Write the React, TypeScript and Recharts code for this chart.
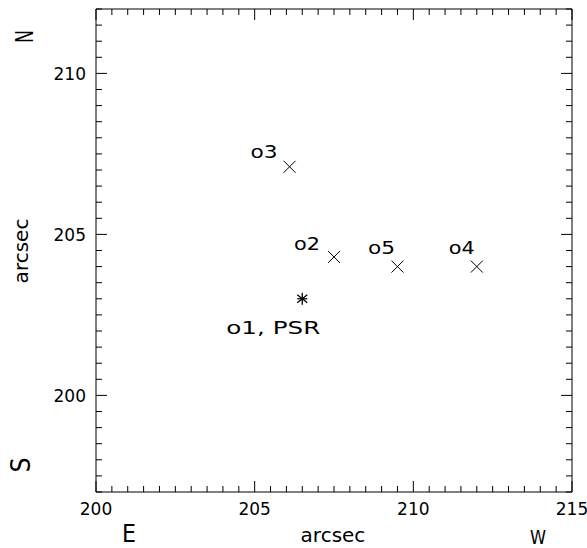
import React from "react";
import { ScatterChart, Scatter, XAxis, YAxis } from "recharts";

// sources in the field, arcsec
const names = ["o1, PSR", "o2", "o3", "o4", "o5"];
const xValues = [206.5, 207.5, 206.1, 212.0, 209.5];
const yValues = [203.0, 204.3, 207.1, 204.0, 204.0];
const markerKinds = ["asterisk", "cross", "cross", "cross", "cross"];

const xDomain = [200, 215];
const yDomain = [197, 212];
const xMajorTicks = [200, 205, 210, 215];
const yMajorTicks = [200, 205, 210];
const minorStep = 0.5;

// label placement relative to the marker (pixels)
const labelStyles: Record<string, { dx: number; dy: number; len: number }> = {
  "o1, PSR": { dx: -29, dy: 35, len: 94 },
  o2: { dx: -27, dy: -7, len: 26 },
  o3: { dx: -25.5, dy: -8.5, len: 27 },
  o4: { dx: -15, dy: -12.7, len: 26 },
  o5: { dx: -16, dy: -12.7, len: 27 },
};

const FONT = "'DejaVu Sans', sans-serif";
const INK = "#000";

const makeTicks = (lo: number, hi: number) => {
  const out: number[] = [];
  for (let v = lo; v <= hi + 1e-9; v += minorStep) out.push(Math.round(v * 10) / 10);
  return out;
};

const xTicks = makeTicks(xDomain[0], xDomain[1]);
const yTicks = makeTicks(yDomain[0], yDomain[1]);

const data = names.map((n, i) => ({
  name: n,
  x: xValues[i],
  y: yValues[i],
  kind: markerKinds[i],
}));

const isMajor = (v: number, majors: number[]) => majors.indexOf(v) !== -1;

// ticks point inward, labels only on bottom/left majors
const tickFactory =
  (side: "bottom" | "top" | "left" | "right") =>
  (props: any) => {
    const { x, y, payload } = props;
    const v = payload.value as number;
    const majors = side === "bottom" || side === "top" ? xMajorTicks : yMajorTicks;
    const major = isMajor(v, majors);
    const len = major ? 11 : 6;
    let line;
    if (side === "bottom") line = <line x1={x} y1={y} x2={x} y2={y - len} stroke={INK} />;
    else if (side === "top") line = <line x1={x} y1={y} x2={x} y2={y + len} stroke={INK} />;
    else if (side === "left") line = <line x1={x} y1={y} x2={x + len} y2={y} stroke={INK} />;
    else line = <line x1={x} y1={y} x2={x - len} y2={y} stroke={INK} />;
    return (
      <g>
        {line}
        {major && side === "bottom" && (
          <text x={x} y={y + 23} textAnchor="middle" fontSize={17} fontFamily={FONT} fill={INK}>
            {v}
          </text>
        )}
        {major && side === "left" && (
          <text x={x - 10} y={y + 6.3} textAnchor="end" fontSize={17} fontFamily={FONT} fill={INK}>
            {v}
          </text>
        )}
      </g>
    );
  };

const renderPoint = (props: any) => {
  const { cx, cy, payload } = props;
  const st = labelStyles[payload.name];
  let mark;
  if (payload.kind === "asterisk") {
    mark = (
      <g stroke={INK} strokeWidth={1.3}>
        <line x1={cx} y1={cy - 6} x2={cx} y2={cy + 6} />
        <line x1={cx - 5} y1={cy - 4} x2={cx + 5} y2={cy + 4} />
        <line x1={cx - 5} y1={cy + 4} x2={cx + 5} y2={cy - 4} />
        <line x1={cx - 5} y1={cy} x2={cx + 5} y2={cy} />
      </g>
    );
  } else {
    mark = (
      <g stroke={INK} strokeWidth={1}>
        <line x1={cx - 6} y1={cy - 6} x2={cx + 6} y2={cy + 6} />
        <line x1={cx - 6} y1={cy + 6} x2={cx + 6} y2={cy - 6} />
      </g>
    );
  }
  return (
    <g>
      {mark}
      <text
        x={cx + st.dx}
        y={cy + st.dy}
        textAnchor="middle"
        fontSize={18}
        fontFamily={FONT}
        fill={INK}
        textLength={st.len}
        lengthAdjust="spacingAndGlyphs"
      >
        {payload.name}
      </text>
    </g>
  );
};

const axisLine = { stroke: INK, strokeWidth: 1 };

export default function App() {
  return (
    <div style={{ position: "absolute", left: 0, top: 0, width: 587, height: 548, background: "#fff" }}>
      <ScatterChart
        width={587}
        height={548}
        margin={{ top: 8, right: 14, bottom: 55, left: 95 }}
      >
        <XAxis
          xAxisId="b"
          type="number"
          dataKey="x"
          orientation="bottom"
          domain={xDomain}
          ticks={xTicks}
          interval={0}
          height={1}
          tickSize={0}
          tickMargin={0}
          axisLine={axisLine}
          tickLine={false}
          tick={tickFactory("bottom")}
          allowDataOverflow
        />
        <XAxis
          xAxisId="t"
          type="number"
          dataKey="x"
          orientation="top"
          domain={xDomain}
          ticks={xTicks}
          interval={0}
          height={1}
          tickSize={0}
          tickMargin={0}
          axisLine={axisLine}
          tickLine={false}
          tick={tickFactory("top")}
          allowDataOverflow
        />
        <YAxis
          yAxisId="l"
          type="number"
          dataKey="y"
          orientation="left"
          domain={yDomain}
          ticks={yTicks}
          interval={0}
          width={1}
          tickSize={0}
          tickMargin={0}
          axisLine={axisLine}
          tickLine={false}
          tick={tickFactory("left")}
          allowDataOverflow
        />
        <YAxis
          yAxisId="r"
          type="number"
          dataKey="y"
          orientation="right"
          domain={yDomain}
          ticks={yTicks}
          interval={0}
          width={1}
          tickSize={0}
          tickMargin={0}
          axisLine={axisLine}
          tickLine={false}
          tick={tickFactory("right")}
          allowDataOverflow
        />
        <Scatter
          data={data}
          xAxisId="b"
          yAxisId="l"
          shape={renderPoint}
          isAnimationActive={false}
        />
      </ScatterChart>
      <svg
        width={587}
        height={548}
        style={{ position: "absolute", left: 0, top: 0, pointerEvents: "none" }}
        fontFamily={FONT}
        fill={INK}
      >
        <text x={333} y={541.5} textAnchor="middle" fontSize={20}>
          arcsec
        </text>
        <text transform="translate(27.5,251) rotate(-90)" textAnchor="middle" fontSize={20}>
          arcsec
        </text>
        <text transform="translate(33,36.5) rotate(-90)" textAnchor="middle" fontSize={25} textLength={13} lengthAdjust="spacingAndGlyphs">
          N
        </text>
        <text transform="translate(30,465) rotate(-90)" textAnchor="middle" fontSize={27} textLength={15} lengthAdjust="spacingAndGlyphs">
          S
        </text>
        <text x={129} y={541.7} textAnchor="middle" fontSize={25} textLength={14} lengthAdjust="spacingAndGlyphs">
          E
        </text>
        <text x={538} y={544} textAnchor="middle" fontSize={19} textLength={16} lengthAdjust="spacingAndGlyphs">
          W
        </text>
      </svg>
    </div>
  );
}
